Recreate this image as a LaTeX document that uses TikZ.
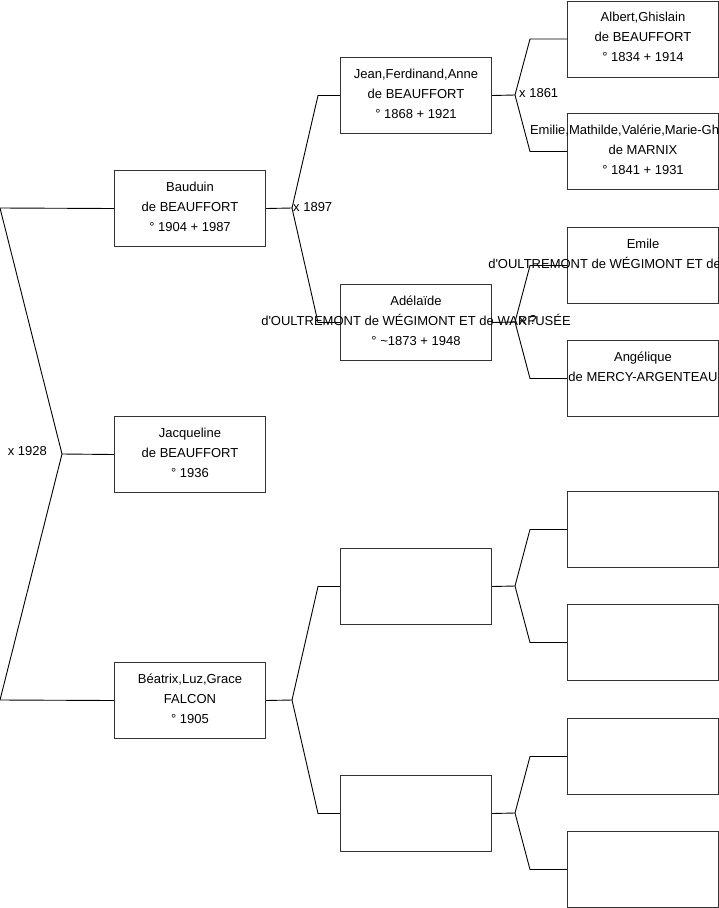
\documentclass[tikz,border=0pt]{standalone}
\usepackage{fontspec}
\newfontfamily\arial{Liberation Sans}
\newcommand\fstrut{\rule{0pt}{10pt}}
\tikzset{
  pbox/.style={rectangle, draw=black!80, line width=1pt, minimum width=151pt, minimum height=76pt, inner sep=0pt, anchor=north west},
  ptxt/.style={anchor=north, inner sep=0pt, align=center, font={\arial\fontsize{13}{20}\selectfont}},
  lbl/.style={inner sep=0pt, font={\arial\fontsize{13}{16}\selectfont}},
  conn/.style={draw=black, line width=0.9pt}
}
\begin{document}
\begin{tikzpicture}[x=1pt,y=-1pt]
\useasboundingbox (0,0) rectangle (719,908);
\clip (0,0) rectangle (719,908);
% generation 1
\node[pbox] (B) at (114,170) {};
\node[pbox] (Jq) at (114,416) {};
\node[pbox] (F) at (114,662) {};
% generation 2
\node[pbox] (P1) at (340,57) {};
\node[pbox] (P2) at (340,284) {};
\node[pbox] (P3) at (340,548) {};
\node[pbox] (P4) at (340,775) {};
% generation 3
\node[pbox] (G1) at (567,0.5) {};
\node[pbox] (G2) at (567,113) {};
\node[pbox] (G3) at (567,227) {};
\node[pbox] (G4) at (567,340) {};
\node[pbox] (G5) at (567,491) {};
\node[pbox] (G6) at (567,604) {};
\node[pbox] (G7) at (567,718) {};
\node[pbox] (G8) at (567,831) {};
% texts
\node[ptxt] (tB) at ([yshift=-11pt]B.north) {\fstrut Bauduin\\de BEAUFFORT\\° 1904 + 1987};
\node[ptxt] (tJq) at ([yshift=-11pt]Jq.north) {\fstrut Jacqueline\\de BEAUFFORT\\° 1936};
\node[ptxt] (tF) at ([yshift=-11pt]F.north) {\fstrut Béatrix,Luz,Grace\\FALCON\\° 1905};
\node[ptxt] (tP1) at ([yshift=-11pt]P1.north) {\fstrut Jean,Ferdinand,Anne\\de BEAUFFORT\\° 1868 + 1921};
\node[ptxt] (tP2) at ([yshift=-11pt]P2.north) {\fstrut Adélaïde\\d'OULTREMONT de WÉGIMONT ET de WARFUSÉE\\° \textasciitilde1873 + 1948};
\node[ptxt] (tG1) at ([yshift=-11pt]G1.north) {\fstrut Albert,Ghislain\\de BEAUFFORT\\° 1834 + 1914};
\node[ptxt] (tG2) at ([yshift=-11pt]G2.north) {\fstrut Emilie,Mathilde,Valérie,Marie-Ghislaine\\de MARNIX\\° 1841 + 1931};
\node[ptxt] (tG3) at ([yshift=-11pt]G3.north) {\fstrut Emile\\d'OULTREMONT de WÉGIMONT ET de WARFUSÉE};
\node[ptxt] (tG4) at ([yshift=-11pt]G4.north) {\fstrut Angélique\\de MERCY-ARGENTEAU};
% connectors
\coordinate (s1) at (0,208);
\coordinate (s2) at (0,700);
\coordinate (j0) at (62,454);
\coordinate (j1) at (292,208);
\coordinate (j2) at (515,95);
\coordinate (j3) at (515,322);
\coordinate (j4) at (292,700);
\coordinate (j5) at (515,586);
\coordinate (j6) at (515,813);
\draw[conn] (s1) -- (B.west);
\draw[conn] (s1) -- (j0) -- (s2);
\draw[conn] (j0) -- (Jq.west);
\draw[conn] (s2) -- (F.west);
\draw[conn] (B.east) -- (j1);
\draw[conn] (j1) -- ([xshift=-22pt]P1.west) -- (P1.west);
\draw[conn] (j1) -- ([xshift=-22pt]P2.west) -- (P2.west);
\draw[conn] (F.east) -- (j4);
\draw[conn] (j4) -- ([xshift=-22pt]P3.west) -- (P3.west);
\draw[conn] (j4) -- ([xshift=-22pt]P4.west) -- (P4.west);
\draw[conn] (P1.east) -- (j2);
\draw[conn] (j2) -- ([xshift=-37pt]G1.west) -- (G1.west);
\draw[conn] (j2) -- ([xshift=-37pt]G2.west) -- (G2.west);
\draw[conn] (P2.east) -- (j3);
\draw[conn] (j3) -- ([xshift=-37pt]G3.west) -- (G3.west);
\draw[conn] (j3) -- ([xshift=-37pt]G4.west) -- (G4.west);
\draw[conn] (P3.east) -- (j5);
\draw[conn] (j5) -- ([xshift=-37pt]G5.west) -- (G5.west);
\draw[conn] (j5) -- ([xshift=-37pt]G6.west) -- (G6.west);
\draw[conn] (P4.east) -- (j6);
\draw[conn] (j6) -- ([xshift=-37pt]G7.west) -- (G7.west);
\draw[conn] (j6) -- ([xshift=-37pt]G8.west) -- (G8.west);
% marriage labels
\node[lbl, anchor=east] (m0) at (47,451) {x 1928};
\node[lbl, anchor=west] (m1) at (293,207) {x 1897};
\node[lbl, anchor=west] (m2) at (519,93) {x 1861};
\node[lbl, anchor=west] (m3) at (519,320) {x ?};
\end{tikzpicture}
\end{document}
